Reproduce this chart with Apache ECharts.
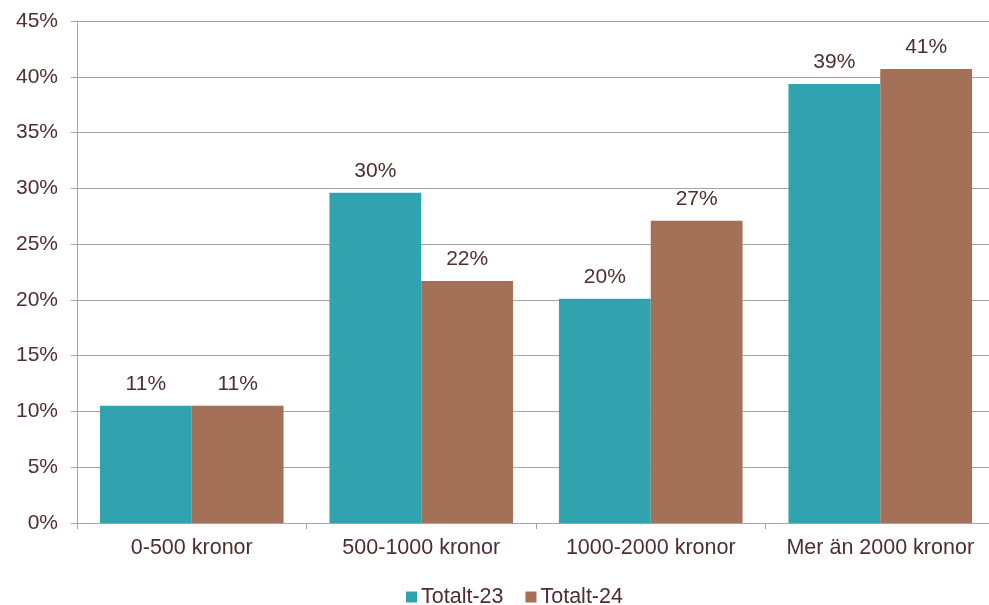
<!DOCTYPE html>
<html>
<head>
<meta charset="utf-8">
<script src="https://cdn.jsdelivr.net/npm/echarts@6/dist/echarts.min.js"></script>
<style>
html,body{margin:0;padding:0;background:#fff;overflow:hidden;}
#main{width:995px;height:605px;}
</style>
</head>
<body>
<div id="main"></div>
<script>
const categories = ['0-500 kronor', '500-1000 kronor', '1000-2000 kronor', 'Mer än 2000 kronor'];
const seriesNames = ['Totalt-23', 'Totalt-24'];
const totalt23 = [10.5, 29.6, 20.1, 39.35];
const totalt24 = [10.5, 21.7, 27.1, 40.7];
const yTicks = [0, 5, 10, 15, 20, 25, 30, 35, 40, 45];

const textColor = '#4f2e2e';
const lineColor = '#aaa3a3';
const font = 'Liberation Sans, Arial, sans-serif';

const chart = echarts.init(document.getElementById('main'), null, {renderer: 'canvas'});
const labelOpt = {
  show: true,
  position: 'top',
  distance: 11,
  color: textColor,
  fontSize: 21,
  fontFamily: font,
  formatter: p => Math.round(p.value) + '%'
};
chart.setOption({
  animation: false,
  backgroundColor: '#ffffff',
  grid: {left: 77, right: 0, top: 21, bottom: 82, containLabel: false},
  legend: {
    left: 401,
    top: 581,
    itemWidth: 11,
    itemHeight: 11,
    itemGap: 22,
    icon: 'rect',
    textStyle: {color: textColor, fontSize: 21.5, fontFamily: font, padding: [0, 0, 0, -1]},
    data: seriesNames
  },
  xAxis: {
    type: 'category',
    data: categories,
    axisLine: {lineStyle: {color: lineColor, width: 1}},
    axisTick: {show: true, interval: 0, length: 6, lineStyle: {color: lineColor}},
    axisLabel: {interval: 0, hideOverlap: false, color: textColor, fontSize: 21.5, fontFamily: font, margin: 14}
  },
  yAxis: {
    type: 'value',
    min: yTicks[0],
    max: yTicks[yTicks.length - 1],
    interval: 5,
    axisLine: {show: true, lineStyle: {color: lineColor, width: 1}},
    axisTick: {show: true, length: 6, lineStyle: {color: lineColor}},
    splitLine: {show: true, lineStyle: {color: lineColor, width: 1}},
    axisLabel: {color: textColor, fontSize: 21, fontFamily: font, margin: 19, formatter: v => v + '%'}
  },
  series: [
    {
      name: seriesNames[0], type: 'bar', data: totalt23,
      barGap: '0%', barCategoryGap: '20%',
      itemStyle: {color: '#31a3ae'},
      label: labelOpt
    },
    {
      name: seriesNames[1], type: 'bar', data: totalt24,
      barGap: '0%', barCategoryGap: '20%',
      itemStyle: {color: '#a57058'},
      label: labelOpt
    }
  ]
});
</script>
</body>
</html>
